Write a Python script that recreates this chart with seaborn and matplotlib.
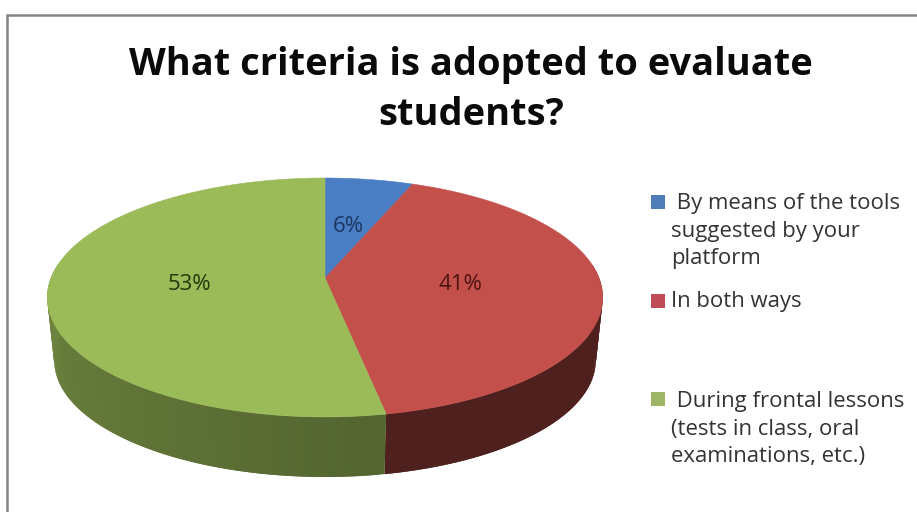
import numpy as np
import seaborn as sns
import matplotlib.pyplot as plt

# chart values
categories = [
    " By means of the tools\nsuggested by your\nplatform",
    "In both ways",
    " During frontal lessons\n(tests in class, oral\nexaminations, etc.)",
]
values = [6, 41, 53]
pct_labels = ["6%", "41%", "53%"]
title = "What criteria is adopted to evaluate\nstudents?"

face_colors = ["#4a7ec4", "#c4504c", "#9bbb59"]
label_colors = ["#1c3560", "#4d1412", "#24380f"]
legend_colors = ["#4f7db8", "#be4b55", "#9fb566"]

# pie geometry in pixels: apex position and the perspective of the disc
APEX_X, APEX_Y = 325, 278
SCALE_X, SCALE_Y, PERSP = 274, 116.3, 0.163
WALL_DROP, WALL_SHRINK = 63.5, 0.975


def project(theta, shrink=1.0, drop=0.0):
    """Map a clockwise angle from 12 o'clock onto the tilted disc rim."""
    u, v = np.sin(theta), np.cos(theta)
    w = 1 + PERSP * v
    x = APEX_X + shrink * SCALE_X * u / w
    y = APEX_Y - shrink * SCALE_Y * v / w + drop
    return x, y


def wall_shade(idx, frac):
    """Darkening of the side wall, frac runs along the slice."""
    if idx == 1:
        return 0.60 - 0.2 * min(frac * 2.2, 1.0)
    return 0.54 + 0.32 * frac


sns.set_theme(style="white")
plt.rcParams["font.family"] = ["Open Sans", "DejaVu Sans"]

fig = plt.figure(figsize=(9.17, 5.12), dpi=100)
ax = fig.add_axes([0, 0, 1, 1])
ax.set_xlim(0, 917)
ax.set_ylim(512, 0)
ax.axis("off")

# chart frame
ax.plot([7, 7, 917], [512, 15, 15], color="#858585", lw=1.8, solid_joinstyle="miter")

palette = sns.color_palette(face_colors)
edges = np.cumsum([0] + values) / sum(values) * 2 * np.pi

# side wall first, the top face covers what is behind it
for i, col in enumerate(palette):
    angles = np.linspace(edges[i], edges[i + 1], max(values[i] * 4, 2))
    last = len(angles) - 1
    for j in range(last):
        a, b = angles[j], angles[min(j + 2, last)]
        if np.cos(a) > 0.1 and np.cos(b) > 0.1:
            continue
        x0, y0 = project(a)
        x1, y1 = project(b)
        x2, y2 = project(b, WALL_SHRINK, WALL_DROP)
        x3, y3 = project(a, WALL_SHRINK, WALL_DROP)
        shade = wall_shade(i, j / (last - 1))
        c = tuple(np.array(col) * shade)
        ax.fill([x0, x1, x2, x3], [y0, y1, y2, y3], color=c, lw=0)

# top face
for i, col in enumerate(palette):
    theta = np.linspace(edges[i], edges[i + 1], 200)
    rx, ry = project(theta)
    ax.fill(
        np.r_[APEX_X, rx],
        np.r_[APEX_Y, ry],
        color=col,
        lw=0.4,
    )

# slice labels
label_pos = [(348, 227), (460, 285), (189, 285)]
for (x, y), txt, col in zip(label_pos, pct_labels, label_colors):
    ax.text(x, y, txt, color=col, fontsize=16, ha="center", va="center")

ax.text(
    471,
    90,
    title,
    color="#0a0a0a",
    fontsize=27.4,
    fontweight="bold",
    ha="center",
    va="center",
    linespacing=1.42,
)

# legend
legend_y = [202, 301, 399]
text_x = [671, 671, 671]
text_y = [231, 302, 429]
ax.scatter(
    [658, 658, 658],
    legend_y,
    marker="s",
    s=90,
    c=legend_colors,
    linewidths=0,
)
for x, y, txt in zip(text_x, text_y, categories):
    ax.text(
        x,
        y,
        txt,
        color="#333333",
        fontsize=15.9,
        ha="left",
        va="center",
        linespacing=1.4,
    )

fig.savefig("out.png", dpi=100)
